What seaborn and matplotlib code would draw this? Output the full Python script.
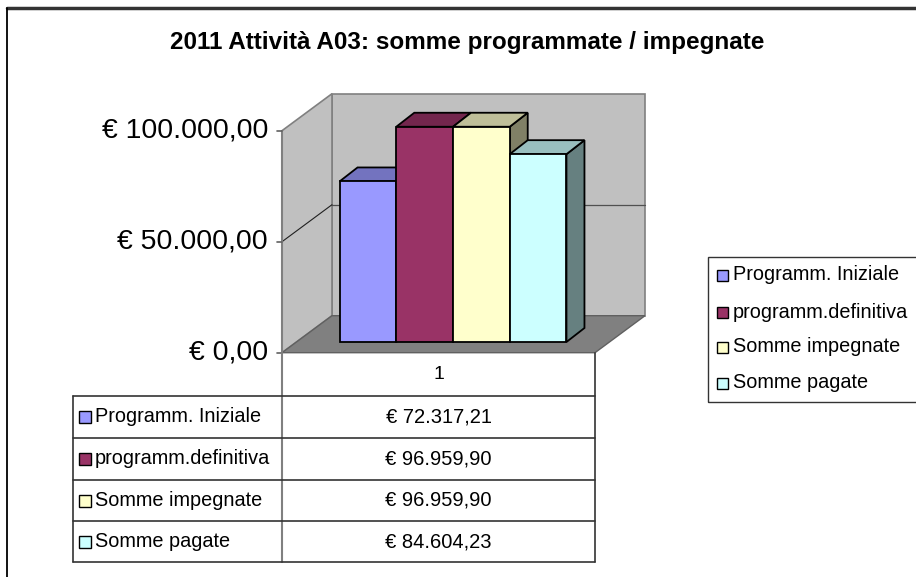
import numpy as np
import pandas as pd
import matplotlib
matplotlib.use("Agg")
import matplotlib.pyplot as plt
import matplotlib.colors as mcolors
import seaborn as sns
from matplotlib.patches import Polygon, Rectangle
from matplotlib.lines import Line2D

# dati
titolo = "2011 Attività A03: somme programmate / impegnate"
categorie = ["1"]
serie = ["Programm. Iniziale", "programm.definitiva", "Somme impegnate", "Somme pagate"]
valori = [72317.21, 96959.90, 96959.90, 84604.23]
colori = ["#9999FF", "#993366", "#FFFFCC", "#CCFFFF"]
tick_y = [0, 50000, 100000]

W_PX, H_PX = 916, 577


def euro(v):
    s = f"{v:,.2f}".replace(",", "X").replace(".", ",").replace("X", ".")
    return f"€ {s}"


def fx(px):
    return px / W_PX


def fy(py):
    return 1 - py / H_PX


sns.set_theme(style="white")
plt.rcParams["font.family"] = ["Liberation Sans", "DejaVu Sans"]
plt.rcParams["text.color"] = "black"

fig = plt.figure(figsize=(W_PX / 100, H_PX / 100), dpi=100)

# piano frontale delle barre, in pixel dell'immagine
PL, PB, PW, PH = 296.5, 342, 313, 222
ax = fig.add_axes([fx(PL), fy(PB), PW / W_PX, PH / H_PX])

df = pd.DataFrame({"cat": categorie * len(serie), "serie": serie, "valore": valori})
sns.barplot(data=df, x="cat", y="valore", hue="serie", palette=colori,
            saturation=1, width=0.725, edgecolor="black", linewidth=1.3,
            legend=False, ax=ax)
bars = sorted([p for p in ax.patches if isinstance(p, Rectangle)], key=lambda p: p.get_x())
ax.set_xlim(-0.5, 0.5)
ax.set_ylim(0, tick_y[-1])
ax.set_axis_off()

ux = 1 / PW            # unita' dati per pixel
uy = tick_y[-1] / PH
x0, x1 = -0.5, 0.5
ymax = tick_y[-1]

# spostamenti (pixel) del piano anteriore e posteriore della scatola
fdx, fdy = -14.5, -10.7
bdx, bdy = 35.5, 26.3


def P(x, y, ox, oy):
    return (x + ox * ux, y + oy * uy)


wall = "#C0C0C0"
edge = "#808080"
ax.add_patch(Polygon([P(x0, 0, bdx, bdy), P(x1, 0, bdx, bdy), P(x1, ymax, bdx, bdy), P(x0, ymax, bdx, bdy)],
                     fc=wall, ec=edge, lw=1.2, zorder=0.5, clip_on=False))
ax.add_patch(Polygon([P(x0, 0, fdx, fdy), P(x0, ymax, fdx, fdy), P(x0, ymax, bdx, bdy), P(x0, 0, bdx, bdy)],
                     fc=wall, ec=edge, lw=1.2, zorder=0.5, clip_on=False))
ax.add_patch(Polygon([P(x0, 0, fdx, fdy), P(x1, 0, fdx, fdy), P(x1, 0, bdx, bdy), P(x0, 0, bdx, bdy)],
                     fc="#808080", ec="#606060", lw=1.0, zorder=0.6, clip_on=False))

# griglia
for t in tick_y[1:-1]:
    a, b = P(x0, t, bdx, bdy), P(x1, t, bdx, bdy)
    ax.add_line(Line2D([a[0], b[0]], [a[1], b[1]], color="#505050", lw=0.9, zorder=0.7, clip_on=False))
    a, b = P(x0, t, fdx, fdy), P(x0, t, bdx, bdy)
    ax.add_line(Line2D([a[0], b[0]], [a[1], b[1]], color="#202020", lw=0.8, zorder=0.7, clip_on=False))

# asse verticale con tacche ed etichette
axx = x0 + fdx * ux
ax.add_line(Line2D([axx, axx], [fdy * uy, ymax + fdy * uy], color="#808080", lw=1.5, zorder=1, clip_on=False))
for t in tick_y:
    yy = t + fdy * uy
    ax.add_line(Line2D([axx - 5 * ux, axx], [yy, yy], color="#606060", lw=1.2, zorder=1, clip_on=False))
    ax.text(axx - 14 * ux, yy, euro(t), ha="right", va="center", fontsize=20.5, color="black")

# facce superiori e laterali delle barre
kdx, kdy = 18, 14
for i, (p, col) in enumerate(zip(bars, colori)):
    x, w, h = p.get_x(), p.get_width(), p.get_height()
    rgb = np.array(mcolors.to_rgb(col))
    side = Polygon([(x + w, 0), (x + w + kdx * ux, kdy * uy), (x + w + kdx * ux, h + kdy * uy), (x + w, h)],
                   fc=rgb * 0.5, ec="black", lw=1.3, zorder=2 + 3 * i, clip_on=False)
    top = Polygon([(x, h), (x + w, h), (x + w + kdx * ux, h + kdy * uy), (x + kdx * ux, h + kdy * uy)],
                  fc=rgb * 0.75, ec="black", lw=1.3, zorder=3 + 3 * i, clip_on=False)
    ax.add_patch(side)
    ax.add_patch(top)
    p.set_zorder(4 + 3 * i)
    p.set_clip_on(False)


def line(xa, ya, xb, yb, color="#333333", lw=1.2):
    fig.add_artist(Line2D([fx(xa), fx(xb)], [fy(ya), fy(yb)], transform=fig.transFigure, color=color, lw=lw))


def square(xl, yc, size, col):
    fig.add_artist(Rectangle((fx(xl), fy(yc + size / 2)), size / W_PX, size / H_PX,
                             transform=fig.transFigure, fc=col, ec="black", lw=1.0))


# tabella dati
col_l, col_m, col_r = 73, PL + fdx, PL + fdx + PW
y_top = PB - fdy
rows = [396, 438, 480, 521, 562]
line(col_m, y_top, col_m, rows[-1], color="#808080", lw=1.5)
line(col_r, y_top, col_r, rows[-1])
line(col_l, rows[0], col_l, rows[-1])
for r in rows:
    line(col_l, r, col_r, r)
fig.text(fx((col_m + col_r) / 2), fy((y_top + rows[0]) / 2), categorie[0], ha="center", va="center", fontsize=14)
for i, (name, v, col) in enumerate(zip(serie, valori, colori)):
    yc = (rows[i] + rows[i + 1]) / 2
    square(79, yc, 12, col)
    fig.text(fx(95), fy(yc), name, ha="left", va="center", fontsize=14.3)
    fig.text(fx((col_m + col_r) / 2), fy(yc), euro(v), ha="center", va="center", fontsize=14.5)

# legenda
fig.add_artist(Rectangle((fx(708), fy(402)), (925 - 708) / W_PX, (402 - 257) / H_PX,
                         transform=fig.transFigure, fill=False, ec="#333333", lw=1.0))
for name, col, yc in zip(serie, colori, [275, 312, 347, 383]):
    square(717, yc, 11, col)
    fig.text(fx(733), fy(yc), name, ha="left", va="center", fontsize=14.3)

# titolo e cornice
fig.text(fx(467), fy(42), titolo, ha="center", va="center", fontsize=17.5, fontweight="bold")
line(7, 8, 916, 8, color="#333333", lw=2.5)
line(7, 8, 7, 577, color="black", lw=1.3)

fig.savefig("out.png", dpi=100)
